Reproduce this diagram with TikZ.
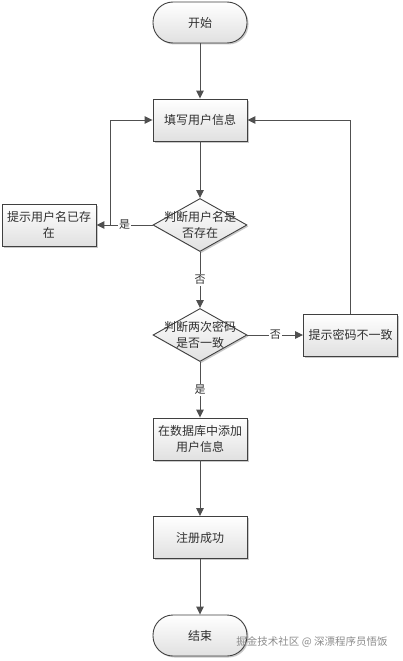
\documentclass[tikz,border=0pt]{standalone}
\usepackage{fontspec}
\setmainfont{Noto Sans CJK SC}
\usetikzlibrary{shapes.geometric,shadows,arrows.meta}
\definecolor{edgec}{HTML}{505050}
\definecolor{linec}{HTML}{404040}
\definecolor{txtc}{HTML}{303030}
\begin{document}
\begin{tikzpicture}[x=1pt,y=-1pt,
  every node/.style={font=\fontsize{12}{16}\selectfont, text=txtc},
  base/.style={draw=linec, line width=0.9pt, top color=white, bottom color=black!12,
    drop shadow={shadow xshift=1.5pt, shadow yshift=-1.5pt, fill=black!35, opacity=0.6}},
  procbox/.style={base, rectangle, minimum width=94pt, minimum height=42pt, inner sep=2pt, align=center},
  termbox/.style={base, rectangle, rounded corners=20pt, minimum width=94pt, minimum height=41pt},
  diabox/.style={base, diamond, minimum width=94pt, minimum height=53pt, inner sep=0pt},
  plain/.style={align=center, inner sep=0pt},
  arr/.style={draw=edgec, line width=1pt, -{Triangle[length=8pt,width=7.5pt]}},
  lbl/.style={fill=white, inner sep=1pt, font=\fontsize{11}{13}\selectfont}
]
\useasboundingbox (0,0) rectangle (403,661);
\fill[white] (0,0) rectangle (403,661);

\node[termbox] (start) at (200,22.5) {开始};
\node[procbox] (fill) at (200,120) {填写用户信息};
\node[diabox] (d1) at (200,225) {};
\node[plain] (d1t) at (d1) {判断用户名是\\否存在};
\node[procbox, text width=88pt] (lb) at (49,225) {提示用户名已存\\在};
\node[diabox] (d2) at (200,335) {};
\node[plain] (d2t) at (d2) {判断两次密码\\是否一致};
\node[procbox] (rb) at (350.5,335) {提示密码不一致};
\node[procbox] (db) at (200,439) {在数据库中添加\\用户信息};
\node[procbox] (reg) at (200,537.5) {注册成功};
\node[termbox] (end) at (200,635.5) {结束};

\coordinate (j1) at (110,225);

\draw[arr] (start) -- (fill);
\draw[arr] (fill) -- (d1);
\draw[arr] (d1.west) -- node[lbl]{是} (lb.east);
\draw[arr] (j1) |- (fill.west);
\draw[arr] (d1.south) -- node[lbl]{否} (d2.north);
\draw[arr] (d2.east) -- node[lbl]{否} (rb.west);
\draw[arr] (rb.north) |- (fill.east);
\draw[arr] (d2.south) -- node[lbl]{是} (db.north);
\draw[arr] (db) -- (reg);
\draw[arr] (reg) -- (end);

\node[font=\fontsize{10.5}{12}\selectfont, text=black!45] (wm) at (312,642) {掘金技术社区 @ 深漂程序员悟饭};
\end{tikzpicture}
\end{document}
